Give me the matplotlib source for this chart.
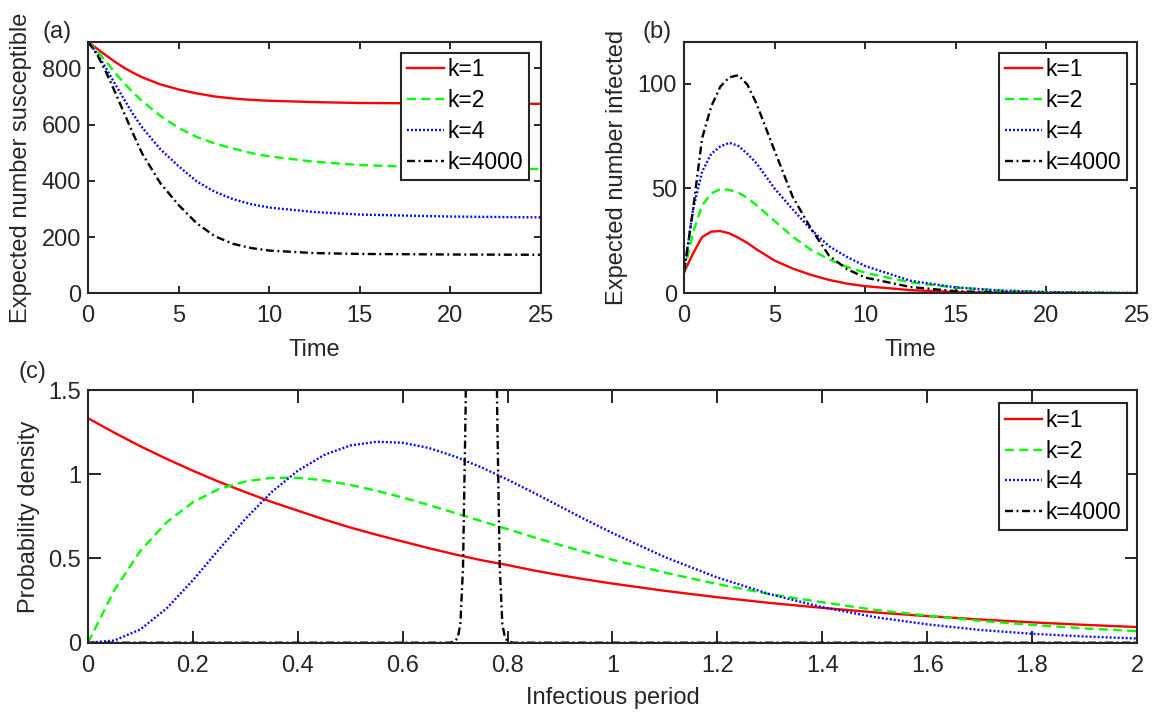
import matplotlib
matplotlib.use("Agg")
import matplotlib.pyplot as plt

plt.rcParams["font.family"] = ["Liberation Sans", "DejaVu Sans"]

# ---- panel (a): expected number susceptible vs time
T_A = [0, 0.5, 1, 1.5, 2, 2.5, 3, 4, 5, 6, 7, 8, 9, 10, 12.5, 15, 20, 25]
S_K1 = [895, 870, 846, 823, 802, 784, 768, 743, 725, 711, 700, 693, 688, 685, 680, 677, 675, 674]
S_K2 = [895, 862, 824, 784, 747, 713, 683, 631, 588, 556, 533, 515, 499, 487, 468, 456, 446, 442]
S_K4 = [895, 852, 800, 744, 689, 636, 589, 512, 452, 398, 361, 335, 317, 305, 289, 280, 273, 270]
S_K4000 = [895, 850, 786, 715, 640, 566, 496, 391, 314, 249, 203, 176, 161, 152, 143, 140, 138, 137]

# ---- panel (b): expected number infected vs time
T_B = [0, 0.5, 1, 1.5, 2, 2.5, 3, 3.5, 4, 5, 6, 7, 8, 9, 10, 12.5, 15, 17.5, 20, 25]
I_K1 = [10, 19, 26.8, 29.4, 29.7, 28.6, 26.5, 24, 21, 15.6, 11.8, 8.8, 6.4, 4.6, 3.4, 1.5, 0.6, 0.25, 0.1, 0.02]
I_K2 = [10, 29, 42, 47.5, 49.8, 49.3, 48, 45.5, 42, 34.5, 27, 20.8, 16.2, 12.6, 9.8, 5.2, 2.7, 1.3, 0.6, 0.1]
I_K4 = [10, 40, 58, 66.5, 70, 71.8, 70.3, 66.5, 62, 50, 40, 30.5, 22.5, 17.3, 13, 6, 2.8, 1.3, 0.6, 0.1]
I_K4000 = [10, 40, 74, 89, 98.5, 103, 104, 99.5, 90.5, 68, 46, 31, 18, 11.5, 7.5, 3, 1, 0.35, 0.12, 0.01]

# ---- panel (c): infectious period density
X_C = [0, 0.05, 0.1, 0.15, 0.2, 0.25, 0.3, 0.35, 0.4, 0.45, 0.5, 0.55, 0.6, 0.65, 0.7,
       0.75, 0.8, 0.85, 0.9, 0.95, 1.0, 1.1, 1.2, 1.3, 1.4, 1.5, 1.6, 1.7, 1.8, 1.9, 2.0]
P_K1 = [1.333, 1.247, 1.166, 1.091, 1.021, 0.955, 0.894, 0.836, 0.784, 0.732, 0.684, 0.641, 0.601,
        0.561, 0.524, 0.490, 0.461, 0.429, 0.401, 0.375, 0.351, 0.308, 0.270, 0.236, 0.207, 0.180,
        0.158, 0.138, 0.121, 0.106, 0.093]
P_K2 = [0, 0.311, 0.546, 0.715, 0.834, 0.913, 0.957, 0.979, 0.979, 0.964, 0.937, 0.902, 0.862,
        0.817, 0.770, 0.722, 0.674, 0.626, 0.580, 0.536, 0.492, 0.416, 0.348, 0.288, 0.240, 0.195,
        0.161, 0.130, 0.106, 0.085, 0.069]
P_K4 = [0, 0.013, 0.079, 0.204, 0.371, 0.555, 0.735, 0.894, 1.021, 1.114, 1.171, 1.193, 1.187,
        1.156, 1.105, 1.041, 0.968, 0.890, 0.809, 0.728, 0.651, 0.508, 0.387, 0.288, 0.211, 0.152,
        0.109, 0.076, 0.053, 0.037, 0.025]
X_C4000 = [0, 0.69, 0.70, 0.705, 0.71, 0.715, 0.72, 0.725, 0.73, 0.74, 0.75,
           0.76, 0.77, 0.775, 0.78, 0.785, 0.79, 0.795, 0.80, 0.81, 2.0]
P_K4000 = [0, 0, 0.01, 0.03, 0.11, 0.45, 1.4, 3.6, 8.1, 23.5, 33.6,
           23.5, 8.1, 3.6, 1.4, 0.45, 0.11, 0.03, 0.01, 0, 0]

LABELS = ["k=1", "k=2", "k=4", "k=4000"]
COLORS = ["#ff0000", "#00ff00", "#0000ff", "#000000"]
STYLES = ["-", (0, (3.8, 2.2)), (0, (0.8, 0.9)), (0, (3.4, 1.5, 0.8, 1.5))]
AX_COLOR = "#262626"
FS = 17
LW = 1.7


def style_axes(ax, ticklen):
    for sp in ax.spines.values():
        sp.set_linewidth(1.5)
        sp.set_color(AX_COLOR)
    ax.tick_params(direction="in", length=ticklen, width=1.4, top=True, right=True,
                   labelsize=FS, colors=AX_COLOR, labelcolor=AX_COLOR)
    ax.tick_params(axis="x", pad=8.5)
    ax.tick_params(axis="y", pad=5)


def add_legend(ax, x, y):
    leg = ax.legend(loc="upper right", bbox_to_anchor=(x, y), borderaxespad=0,
                    fontsize=16.5, handlelength=1.6, handletextpad=0.18,
                    labelspacing=0.34, borderpad=0.25, fancybox=False, framealpha=1,
                    edgecolor=AX_COLOR)
    leg.get_frame().set_linewidth(1.5)


fig = plt.figure(figsize=(11.67, 7.15), dpi=100)
ax_a = fig.add_axes([0.0754, 0.5898, 0.3882, 0.3519])
ax_b = fig.add_axes([0.5861, 0.5898, 0.3882, 0.3519])
ax_c = fig.add_axes([0.0754, 0.1011, 0.8989, 0.3534])

for s, lab, c, ls in zip([S_K1, S_K2, S_K4, S_K4000], LABELS, COLORS, STYLES):
    ax_a.plot(T_A, s, color=c, linestyle=ls, linewidth=LW, label=lab)
ax_a.set_xlim(0, 25)
ax_a.set_ylim(0, 895)
ax_a.set_xticks([0, 5, 10, 15, 20, 25])
ax_a.set_yticks([0, 200, 400, 600, 800])
ax_a.set_xlabel("Time", fontsize=FS, color=AX_COLOR)
ax_a.set_ylabel("Expected number susceptible", fontsize=FS, color=AX_COLOR)
style_axes(ax_a, 5)
add_legend(ax_a, 0.9735, 0.956)

for s, lab, c, ls in zip([I_K1, I_K2, I_K4, I_K4000], LABELS, COLORS, STYLES):
    ax_b.plot(T_B, s, color=c, linestyle=ls, linewidth=LW, label=lab)
ax_b.set_xlim(0, 25)
ax_b.set_ylim(0, 120)
ax_b.set_xticks([0, 5, 10, 15, 20, 25])
ax_b.set_yticks([0, 50, 100])
ax_b.set_xlabel("Time", fontsize=FS, color=AX_COLOR)
ax_b.set_ylabel("Expected number infected", fontsize=FS, color=AX_COLOR)
style_axes(ax_b, 5)
add_legend(ax_b, 0.978, 0.956)

ax_c.plot(X_C, P_K1, color=COLORS[0], linestyle=STYLES[0], linewidth=LW, label=LABELS[0])
ax_c.plot(X_C, P_K2, color=COLORS[1], linestyle=STYLES[1], linewidth=LW, label=LABELS[1])
ax_c.plot(X_C, P_K4, color=COLORS[2], linestyle=STYLES[2], linewidth=LW, label=LABELS[2])
ax_c.plot(X_C4000, P_K4000, color=COLORS[3], linestyle=STYLES[3], linewidth=LW, label=LABELS[3])
ax_c.set_xlim(0, 2)
ax_c.set_ylim(0, 1.5)
ax_c.set_xticks([0, 0.2, 0.4, 0.6, 0.8, 1, 1.2, 1.4, 1.6, 1.8, 2])
ax_c.set_xticklabels(["0", "0.2", "0.4", "0.6", "0.8", "1", "1.2", "1.4", "1.6", "1.8", "2"])
ax_c.set_yticks([0, 0.5, 1, 1.5])
ax_c.set_yticklabels(["0", "0.5", "1", "1.5"])
ax_c.set_xlabel("Infectious period", fontsize=FS, color=AX_COLOR)
ax_c.set_ylabel("Probability density", fontsize=FS, color=AX_COLOR)
style_axes(ax_c, 9)
add_legend(ax_c, 0.9905, 0.9486)

# label positions (axes coords), centred
ax_a.xaxis.set_label_coords(0.5, -0.225)
ax_a.yaxis.set_label_coords(-0.148, 0.5)
ax_b.xaxis.set_label_coords(0.5, -0.225)
ax_b.yaxis.set_label_coords(-0.148, 0.5)
ax_c.xaxis.set_label_coords(0.5, -0.22)
ax_c.yaxis.set_label_coords(-0.056, 0.5)
for ax in (ax_a, ax_b, ax_c):
    ax.xaxis.label.set_verticalalignment("center")
    ax.yaxis.label.set_verticalalignment("center")

fig.text(43 / 1167, 1 - 32 / 715, "(a)", fontsize=FS, color=AX_COLOR, ha="left", va="center")
fig.text(642 / 1167, 1 - 32 / 715, "(b)", fontsize=FS, color=AX_COLOR, ha="left", va="center")
fig.text(19 / 1167, 1 - 372 / 715, "(c)", fontsize=FS, color=AX_COLOR, ha="left", va="center")

fig.savefig("out.png", dpi=100)
